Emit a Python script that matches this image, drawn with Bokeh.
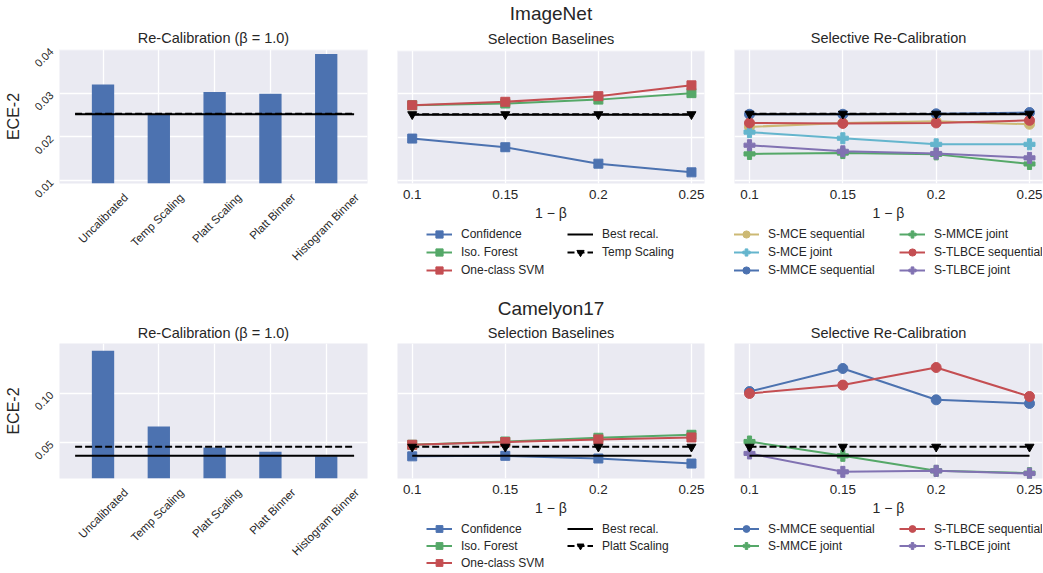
import math
from bokeh.plotting import figure
from bokeh.layouts import row, column
from bokeh.models import (FixedTicker, Legend, LegendItem, Range1d, PrintfTickFormatter, Title)
from bokeh.embed import file_html
from bokeh.resources import INLINE

# ---------------- data ----------------
calibrators = ["Uncalibrated", "Temp Scaling", "Platt Scaling", "Platt Binner", "Histogram Binner"]
coverage = [0.1, 0.15, 0.2, 0.25]
coverage_labels = ["0.1", "0.15", "0.2", "0.25"]

# ImageNet
imagenet_yticks = [0.01, 0.02, 0.03, 0.04]
imagenet_recal = [0.0320, 0.0252, 0.0303, 0.0299, 0.0390]
imagenet_best_recal = 0.0252
imagenet_temp_recal = 0.0253
imagenet_confidence = [0.0197, 0.0177, 0.0139, 0.0119]
imagenet_iso_forest = [0.0274, 0.0278, 0.0287, 0.0302]
imagenet_ocsvm = [0.0274, 0.0282, 0.0295, 0.0320]
imagenet_best_line = [0.0252, 0.0252, 0.0252, 0.0252]
imagenet_temp_line = [0.0253, 0.0253, 0.0253, 0.0253]
imagenet_smce_seq = [0.0223, 0.0232, 0.0236, 0.0229]
imagenet_smce_joint = [0.0211, 0.0197, 0.0183, 0.0183]
imagenet_smmce_seq = [0.0252, 0.0252, 0.0253, 0.0256]
imagenet_smmce_joint = [0.0161, 0.0163, 0.0160, 0.0138]
imagenet_stlbce_seq = [0.0232, 0.0231, 0.0232, 0.0238]
imagenet_stlbce_joint = [0.0181, 0.0167, 0.0162, 0.0152]

# Camelyon17
camelyon_yticks = [0.05, 0.10]
camelyon_recal = [0.1429, 0.0662, 0.0449, 0.0406, 0.0362]
camelyon_best_recal = 0.0365
camelyon_platt_recal = 0.0456
camelyon_confidence = [0.0360, 0.0365, 0.0338, 0.0287]
camelyon_iso_forest = [0.0477, 0.0510, 0.0548, 0.0578]
camelyon_ocsvm = [0.0477, 0.0504, 0.0531, 0.0551]
camelyon_best_line = [0.0365, 0.0365, 0.0365, 0.0365]
camelyon_platt_line = [0.0456, 0.0456, 0.0456, 0.0456]
camelyon_smmce_seq = [0.1016, 0.1249, 0.0932, 0.0895]
camelyon_smmce_joint = [0.0510, 0.0365, 0.0213, 0.0190]
camelyon_stlbce_seq = [0.0996, 0.1081, 0.1259, 0.0966]
camelyon_stlbce_joint = [0.0389, 0.0203, 0.0213, 0.0186]

# ---------------- style ----------------
FONT = "Liberation Sans"
TXT = "#262626"
BG = "#EAEAF2"
BLUE, GREEN, RED = "#4C72B0", "#55A868", "#C44E52"
PURPLE, TAN, CYAN = "#8172B2", "#CCB974", "#64B5CD"
DASH = "7 3"
PX_PER_UNIT_LEFT = 55.8  # bar-panel pixels per category step
MID_W, RIGHT_W, LEFT_W = 337, 324, 382


def style_title(t, size):
    t.align = "center"
    t.text_font = FONT
    t.text_font_size = size
    t.text_font_style = "normal"
    t.text_color = TXT


def make_fig(width, height, xr, yr, bl, br, bt, bb, title, title_standoff, title_size="14.5px"):
    p = figure(width=width, height=height, x_range=xr, y_range=yr,
               output_backend="svg", toolbar_location=None,
               min_border_left=bl, min_border_right=br, min_border_top=bt, min_border_bottom=bb,
               background_fill_color=BG, border_fill_color="white", outline_line_color=None,
               title=title)
    style_title(p.title, title_size)
    p.title.standoff = title_standoff
    for ax in p.axis:
        ax.axis_line_color = None
        ax.major_tick_line_color = None
        ax.minor_tick_line_color = None
        ax.major_tick_out = 0
        ax.major_tick_in = 0
        ax.major_label_text_font = FONT
        ax.major_label_text_color = TXT
        ax.axis_label_text_font = FONT
        ax.axis_label_text_color = TXT
        ax.axis_label_text_font_style = "normal"
    p.grid.grid_line_color = "white"
    p.grid.grid_line_width = 1.3
    return p


def legend_fig(width, height):
    # legend-only strip; its ranges sit away from the data so only the legend shows
    p = figure(width=width, height=height, x_range=Range1d(10, 11), y_range=Range1d(10, 11),
               output_backend="svg", toolbar_location=None,
               min_border_left=0, min_border_right=0, min_border_top=0, min_border_bottom=0,
               background_fill_color="white", border_fill_color="white", outline_line_color=None)
    p.xaxis.visible = False
    p.yaxis.visible = False
    p.grid.visible = False
    return p


def make_legend(items, x, y, row_h, label_w):
    return Legend(items=items, location=(x, y), ncols=2,
                  glyph_width=26, glyph_height=row_h, label_height=row_h,
                  label_width=label_w, label_standoff=9, spacing=0,
                  padding=0, margin=0,
                  label_text_font=FONT, label_text_font_size="12px",
                  label_text_color=TXT, label_text_baseline="middle",
                  background_fill_alpha=0, border_line_color=None)


def left_panel(vals, best, ref, yr, yticks, height, bt, bb, ts):
    n = len(calibrators)
    idx = list(range(n))
    p = make_fig(LEFT_W, height, Range1d(-0.78, 4.74), Range1d(*yr), 59, 15, bt, bb,
                 "Re-Calibration (β = 1.0)", ts)
    p.vbar(x=idx, top=vals, bottom=0, width=0.4, fill_color=BLUE, line_color=None)
    p.line([-0.5, n - 0.5], [ref, ref], line_color="black", line_width=2, line_dash=DASH)
    p.line([-0.5, n - 0.5], [best, best], line_color="black", line_width=2)
    # rotated labels end at their tick; shift each label tick so the label is centred on its bar
    fs = 11.5
    shifted = [i + 0.354 * len(t) * 0.47 * fs / PX_PER_UNIT_LEFT for i, t in zip(idx, calibrators)]
    p.xaxis.ticker = FixedTicker(ticks=shifted)
    p.xgrid.ticker = FixedTicker(ticks=idx)
    p.xaxis.major_label_overrides = {s: name for s, name in zip(shifted, calibrators)}
    p.xaxis.major_label_orientation = math.pi / 4
    p.xaxis.major_label_text_font_size = f"{fs}px"
    p.xaxis.major_label_standoff = 12
    p.yaxis.ticker = FixedTicker(ticks=yticks)
    p.ygrid.ticker = FixedTicker(ticks=yticks)
    p.yaxis.formatter = PrintfTickFormatter(format="%.2f")
    p.yaxis.major_label_orientation = math.pi / 4
    p.yaxis.major_label_text_font_size = "11px"
    p.yaxis.major_label_standoff = 8
    p.yaxis.axis_label = "ECE-2"
    p.yaxis.axis_label_text_font_size = "16px"
    p.yaxis.axis_label_standoff = 6
    return p


def x_axis_style(p):
    p.xaxis.ticker = FixedTicker(ticks=coverage)
    p.xgrid.ticker = FixedTicker(ticks=coverage)
    p.xaxis.major_label_overrides = {c: lab for c, lab in zip(coverage, coverage_labels)}
    p.xaxis.major_label_text_font_size = "13.4px"
    p.xaxis.major_label_standoff = 6
    p.xaxis.axis_label = "1 − β"
    p.xaxis.axis_label_text_font_size = "14px"
    p.xaxis.axis_label_standoff = 3
    p.yaxis.visible = False


def middle_panel(series, best_line, ref_line, ref_name, yr, yticks, height, bt, bb,
                 suptitle, ts, sup_standoff, leg_h, row_h):
    # figure title = dataset name (outermost), panel title added nearer the frame
    p = make_fig(MID_W, height, Range1d(0.0921, 0.257), Range1d(*yr), 15, 15, bt, bb,
                 suptitle, sup_standoff, "19px")
    p.title.offset = -8
    sub = Title(text="Selection Baselines", standoff=ts)
    style_title(sub, "14.5px")
    p.add_layout(sub, "above")
    x_axis_style(p)
    p.ygrid.ticker = FixedTicker(ticks=yticks)
    lg = legend_fig(MID_W, leg_h)
    items = []
    for name, vals, col in series:
        p.line(coverage, vals, line_color=col, line_width=2)
        p.scatter(coverage, vals, marker="square", size=9, fill_color=col, line_color=col)
        l = lg.line(coverage, vals, line_color=col, line_width=2)
        s = lg.scatter(coverage, vals, marker="square", size=9, fill_color=col, line_color=col)
        items.append(LegendItem(label=name, renderers=[l, s]))
    p.line(coverage, best_line, line_color="black", line_width=2)
    p.line(coverage, ref_line, line_color="black", line_width=2, line_dash=DASH)
    p.scatter(coverage, ref_line, marker="inverted_triangle", size=9,
              fill_color="black", line_color="black")
    lb = lg.line(coverage, best_line, line_color="black", line_width=2)
    lr = lg.line(coverage, ref_line, line_color="black", line_width=2, line_dash=DASH)
    sr = lg.scatter(coverage, ref_line, marker="inverted_triangle", size=9,
                    fill_color="black", line_color="black")
    items.append(LegendItem(label="Best recal.", renderers=[lb]))
    items.append(LegendItem(label=ref_name, renderers=[lr, sr]))
    lg.add_layout(make_legend(items, 29, leg_h - 3 * row_h, row_h, 106))
    return column(p, lg)


def right_panel(series, best_line, ref_line, yr, yticks, height, bt, bb, ts, leg_h, row_h):
    p = make_fig(RIGHT_W, height, Range1d(0.09196, 0.25696), Range1d(*yr), 15, 1, bt, bb,
                 "Selective Re-Calibration", ts)
    x_axis_style(p)
    p.ygrid.ticker = FixedTicker(ticks=yticks)
    lg = legend_fig(RIGHT_W, leg_h)
    items = []
    for name, vals, col, mk in series:
        sz = 10 if mk == "circle" else 11
        p.line(coverage, vals, line_color=col, line_width=2)
        p.scatter(coverage, vals, marker=mk, size=sz, fill_color=col, line_color=col)
        l = lg.line(coverage, vals, line_color=col, line_width=2)
        s = lg.scatter(coverage, vals, marker=mk, size=sz, fill_color=col, line_color=col)
        items.append(LegendItem(label=name, renderers=[l, s]))
    p.line(coverage, best_line, line_color="black", line_width=2)
    p.line(coverage, ref_line, line_color="black", line_width=2, line_dash=DASH)
    p.scatter(coverage, ref_line, marker="inverted_triangle", size=9,
              fill_color="black", line_color="black")
    nrows = (len(items) + 1) // 2
    lg.add_layout(make_legend(items, -1, leg_h - nrows * row_h, row_h, 131))
    return column(p, lg)


# ---------------- ImageNet row ----------------
yr1 = (0.00932, 0.04005)
pL1 = left_panel(imagenet_recal, imagenet_best_recal, imagenet_temp_recal, yr1,
                 imagenet_yticks, 290, 49, 107, 8)
pM1 = middle_panel([("Confidence", imagenet_confidence, BLUE),
                    ("Iso. Forest", imagenet_iso_forest, GREEN),
                    ("One-class SVM", imagenet_ocsvm, RED)],
                   imagenet_best_line, imagenet_temp_line, "Temp Scaling", yr1,
                   imagenet_yticks, 225, 49, 42, "ImageNet", 8, 1, 65, 18)
pR1 = right_panel([("S-MCE sequential", imagenet_smce_seq, TAN, "circle"),
                   ("S-MCE joint", imagenet_smce_joint, CYAN, "plus"),
                   ("S-MMCE sequential", imagenet_smmce_seq, BLUE, "circle"),
                   ("S-MMCE joint", imagenet_smmce_joint, GREEN, "plus"),
                   ("S-TLBCE sequential", imagenet_stlbce_seq, RED, "circle"),
                   ("S-TLBCE joint", imagenet_stlbce_joint, PURPLE, "plus")],
                  imagenet_best_line, imagenet_temp_line, yr1, imagenet_yticks,
                  225, 49, 42, 8, 65, 18)

# ---------------- Camelyon17 row ----------------
yr2 = (0.01356, 0.1502)
pL2 = left_panel(camelyon_recal, camelyon_best_recal, camelyon_platt_recal, yr2,
                 camelyon_yticks, 283, 53, 95, 5)
pM2 = middle_panel([("Confidence", camelyon_confidence, BLUE),
                    ("Iso. Forest", camelyon_iso_forest, GREEN),
                    ("One-class SVM", camelyon_ocsvm, RED)],
                   camelyon_best_line, camelyon_platt_line, "Platt Scaling", yr2,
                   camelyon_yticks, 230, 53, 42, "Camelyon17", 5, 3, 53, 17)
pR2 = right_panel([("S-MMCE sequential", camelyon_smmce_seq, BLUE, "circle"),
                   ("S-MMCE joint", camelyon_smmce_joint, GREEN, "plus"),
                   ("S-TLBCE sequential", camelyon_stlbce_seq, RED, "circle"),
                   ("S-TLBCE joint", camelyon_stlbce_joint, PURPLE, "plus")],
                  camelyon_best_line, camelyon_platt_line, yr2, camelyon_yticks,
                  230, 53, 42, 5, 53, 17)

layout = column(row(pL1, pM1, pR1), row(pL2, pM2, pR2))
open("out.html", "w").write(file_html(layout, INLINE, "ECE-2 selective recalibration"))
